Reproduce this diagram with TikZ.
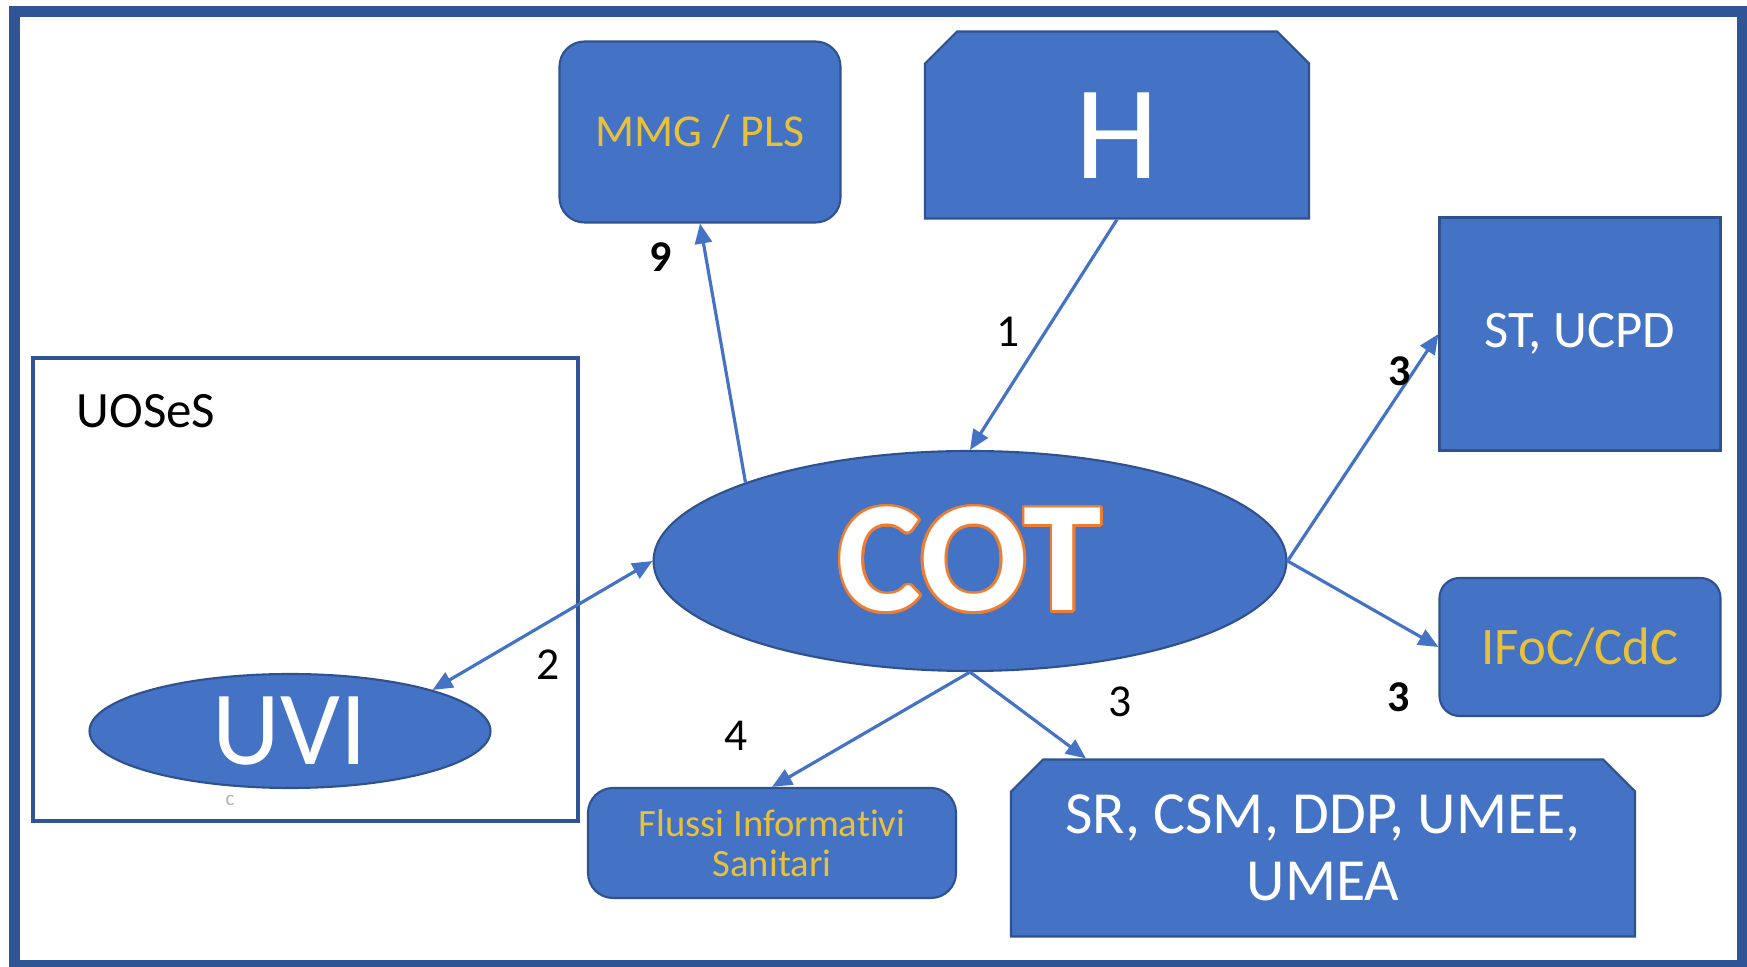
\documentclass[tikz,border=0pt]{standalone}
\usepackage{fontspec}
\setmainfont{Carlito}[Ligatures=NoCommon]
\usepackage{contour}
\usetikzlibrary{shapes.geometric,shapes.misc,arrows.meta}

\definecolor{boxblue}{HTML}{4472C4}
\definecolor{lineblue}{HTML}{2F528F}
\definecolor{frameblue}{HTML}{2F5597}
\definecolor{goldtext}{HTML}{E8C13A}
\definecolor{cotorange}{HTML}{ED7D31}
\contourlength{0.8pt}

\begin{document}
\begin{tikzpicture}[x=0.1mm,y=-0.1mm,
	>={Triangle[length=2mm,width=1.7mm]},
	blubox/.style={draw=lineblue,line width=0.6pt,fill=boxblue,text=white,align=center,inner sep=0pt},
	roundbox/.style={blubox,rounded corners=2.5mm},
	cutbox/.style={blubox,chamfered rectangle,chamfered rectangle corners={north west,north east},chamfered rectangle xsep=1.6mm,chamfered rectangle ysep=1.6mm},
	oval/.style={blubox,ellipse},
	link/.style={draw=boxblue,line width=0.9pt,->},
	num/.style={inner sep=0pt,font=\fontsize{13}{15}\selectfont},
	bnum/.style={inner sep=0pt,font=\fontsize{12.5}{15}\bfseries\selectfont}]
					% page and frame
					\fill[white] (0,0) rectangle (1747,967);
					\useasboundingbox (0,0) rectangle (1747,967);
					\draw[frameblue,line width=1.1mm] (14.5,11.5) rectangle (1742,966);
					\draw[frameblue,line width=0.9pt] (33,358) rectangle (578,821);
					\node[anchor=west,inner sep=0pt,font=\fontsize{14.5}{17}\selectfont] (uoses) at (76,411) {UOSeS};
					% boxes
					\node[roundbox,minimum width=28.1mm,minimum height=18.1mm,text=goldtext,font=\fontsize{13}{15}\selectfont] (mmg) at (700,132) {MMG / PLS};
					\node[cutbox,minimum width=38.4mm,minimum height=18.7mm,text height=10.8mm,font=\fontsize{38}{40}\selectfont] (hosp) at (1117,125) {H};
					\node[blubox,minimum width=28.1mm,minimum height=23.3mm,font=\fontsize{15}{18}\selectfont] (stu) at (1580,334) {ST, UCPD};
					\node[roundbox,rounded corners=2mm,minimum width=28.1mm,minimum height=13.8mm,text=goldtext,font=\fontsize{15}{18}\selectfont] (ifoc) at (1580,647) {IFoC/CdC};
					\node[oval,minimum width=63.3mm,minimum height=22mm,font=\fontsize{45}{48}\bfseries\selectfont] (cot) at (970,561) {\contour{cotorange}{COT}};
					\node[oval,minimum width=40.1mm,minimum height=11.4mm,font=\fontsize{30}{32}\selectfont] (uvi) at (290,731) {UVI};
					\node[text=brown!30!gray!60,font=\fontsize{6}{7}\selectfont] (cmark) at (230,800) {c};
					\node[roundbox,minimum width=36.8mm,minimum height=11mm,text=goldtext,font=\fontsize{11}{11.5}\selectfont] (flussi) at (772,843) {Flussi Informativi\\Sanitari};
					\node[cutbox,minimum width=62.4mm,minimum height=17.7mm,font=\fontsize{17}{19}\selectfont] (srbox) at (1323,848) {SR, CSM, DDP, UMEE,\\UMEA};
					% arrows
					\draw[link] (cot.north west) -- (mmg.south);
					\draw[link] (hosp.south) -- (cot.north);
					\draw[link,<->] (cot.west) -- (uvi.north east);
					\draw[link] (cot.east) -- (stu.west);
					\draw[link] (cot.east) -- (ifoc.west);
					\draw[link] (cot.south) -- (flussi.north);
					\draw[link] (cot.south) -- ([xshift=-23.7mm]srbox.north);
					% numbers
					\node[bnum] (lab9) at (661,257) {9};
					\node[num] (lab1) at (1008,332) {1};
					\node[bnum] (lab3a) at (1400,371) {3};
					\node[num] (lab2) at (548,665) {2};
					\node[num] (lab4) at (736,736) {4};
					\node[num] (lab3b) at (1120,702) {3};
					\node[bnum] (lab3c) at (1399,697) {3};
				\end{tikzpicture}
\end{document}
